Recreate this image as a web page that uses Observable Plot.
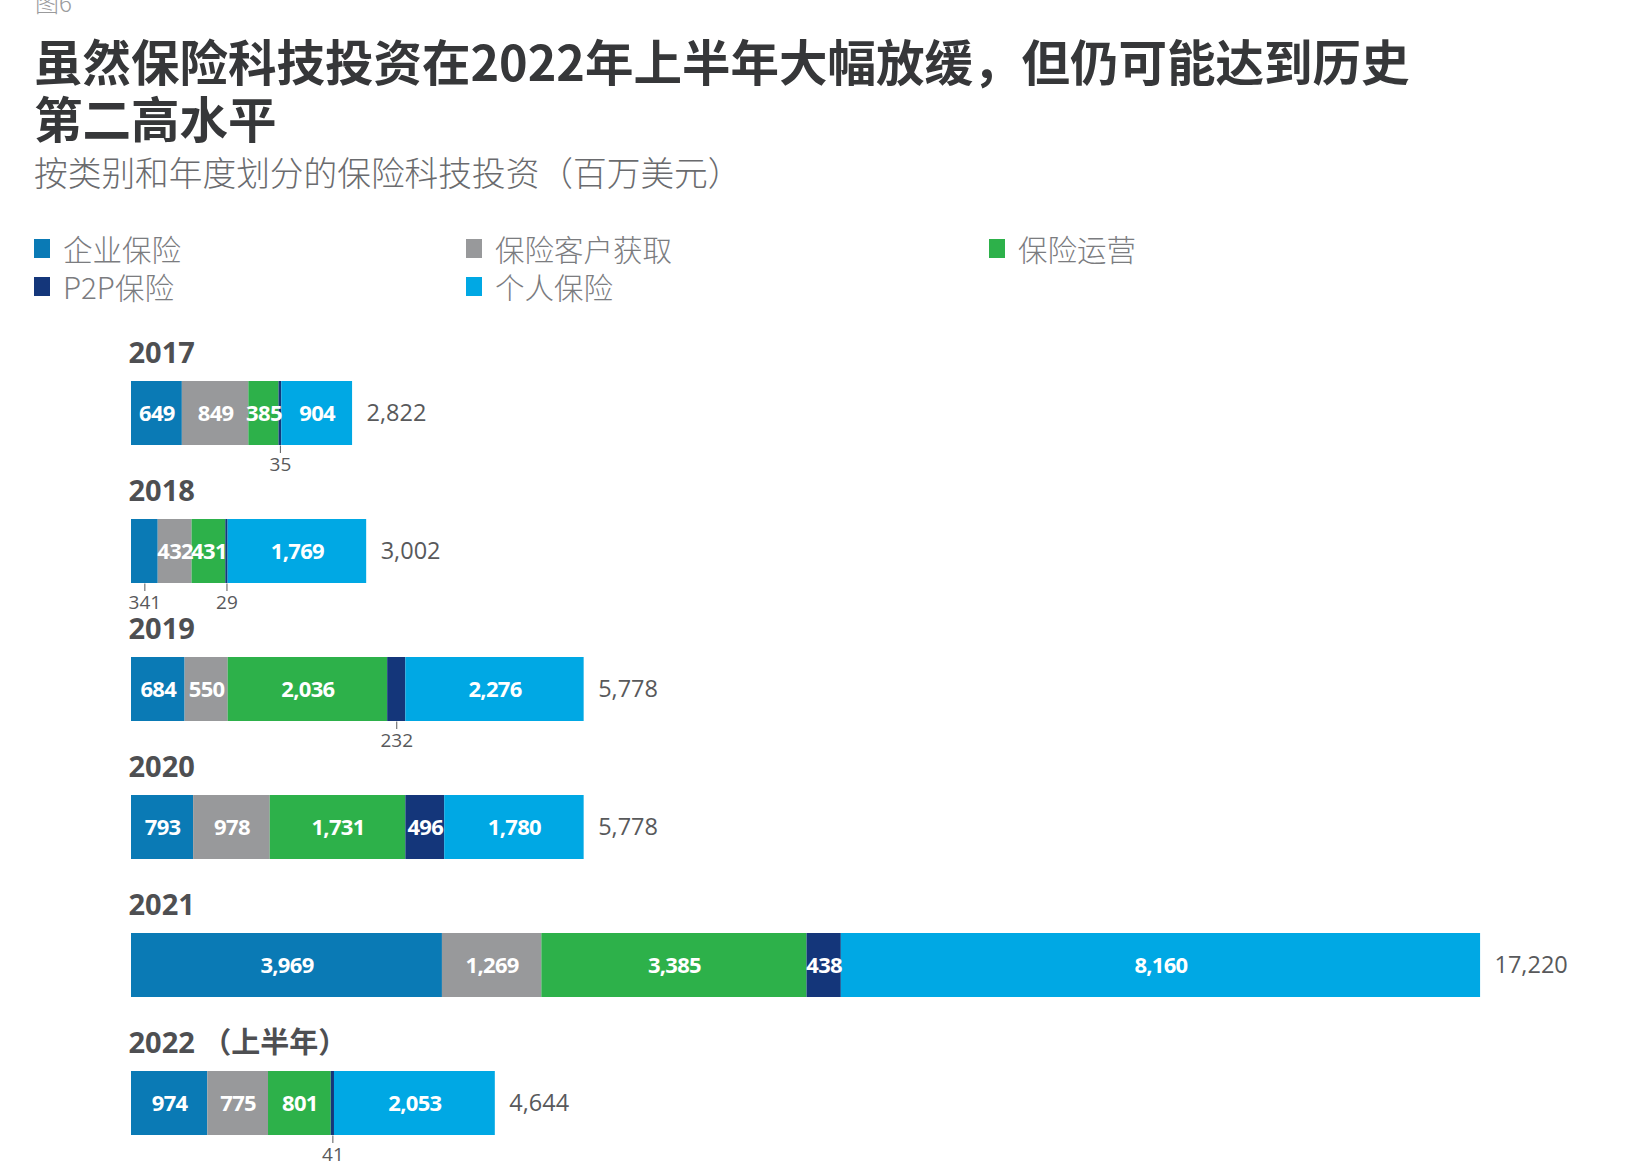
<!DOCTYPE html>
<html>
<head>
<meta charset="utf-8">
<script src="https://cdn.jsdelivr.net/npm/d3@7"></script>
<script src="https://cdn.jsdelivr.net/npm/@observablehq/plot@0.6"></script>
<style>
  body { margin: 0; background: #fff; width: 1632px; height: 1174px; overflow: hidden; position: relative;
         font-family: "Noto Sans CJK SC", "Noto Sans", sans-serif; }
  .fig { position: absolute; left: 35px; top: -11px; font-size: 24px; line-height: 26px; color: #9a9a9c; font-weight: 300; }
  .title { position: absolute; left: 34px; top: 32px; margin: 0; font-size: 48.5px; line-height: 57px; font-weight: 700; color: #363739; }
  .subtitle { position: absolute; left: 34px; top: 152px; font-size: 33.7px; line-height: 40px; font-weight: 300; color: #6a6b6e; }
  .legend { position: absolute; left: 34px; top: 230px; display: grid; grid-template-columns: 432px 523px auto; row-gap: 2px; }
  .item { display: flex; align-items: center; height: 36px; font-size: 29.5px; font-weight: 300; color: #7b7c7f; }
  .sw { width: 16px; height: 19px; margin-right: 13px; }
  #chart { position: absolute; left: 0; top: 300px; }
  /* tighter figures for the in-bar values */
  #chart g[fill="white"] text { letter-spacing: -0.7px; }
</style>
</head>
<body>
<div class="fig">图6</div>
<h1 class="title">虽然保险科技投资在2022年上半年大幅放缓，但仍可能达到历史<br>第二高水平</h1>
<div class="subtitle">按类别和年度划分的保险科技投资（百万美元）</div>
<div class="legend" id="legend"></div>
<div id="chart"></div>
<script>
// Insurtech investment by category and year (USD millions)
const years = ["2017", "2018", "2019", "2020", "2021", "2022 （上半年）"];
const categories = ["企业保险", "保险客户获取", "保险运营", "P2P保险", "个人保险"];
const colors = ["#0a7ab5", "#98999b", "#2db14a", "#14367a", "#00a8e4"];

const enterprise  = [649, 341, 684, 793, 3969, 974];
const acquisition = [849, 432, 550, 978, 1269, 775];
const operations  = [385, 431, 2036, 1731, 3385, 801];
const p2p         = [35, 29, 232, 496, 438, 41];
const personal    = [904, 1769, 2276, 1780, 8160, 2053];
const totals      = [2822, 3002, 5778, 5778, 17220, 4644];

const series = [enterprise, acquisition, operations, p2p, personal];

// Segments laid end to end, in category order, for each year
const rows = [];
years.forEach((year, i) => {
  let start = 0;
  series.forEach((values, k) => {
    const value = values[i];
    rows.push({year, category: categories[k], value, x1: start, x2: start + value});
    start += value;
  });
});
const totalRows = years.map((year, i) => ({year, total: totals[i]}));

// Segments too narrow for an inside label get a callout beneath the bar
const narrow = d => d.value < 360;
const mid = d => (d.x1 + d.x2) / 2;
const fmt = d3.format(",");

// Legend
const legend = document.getElementById("legend");
categories.forEach((c, k) => {
  const item = document.createElement("div");
  item.className = "item";
  item.innerHTML = `<span class="sw" style="background:${colors[k]}"></span><span>${c}</span>`;
  legend.appendChild(item);
});

const BAR_H = 64.5, STEP = 138.6, FIRST_TOP = 78.9;
const pad = 1 - BAR_H / STEP;

const chart = Plot.plot({
  width: 1632,
  height: 874,
  style: {fontFamily: "'Open Sans', 'Noto Sans CJK SC', sans-serif", background: "transparent"},
  x: {domain: [0, 17220], range: [131, 1480], axis: null},
  y: {domain: years, range: [FIRST_TOP, FIRST_TOP + STEP * (years.length - pad)], paddingInner: pad, paddingOuter: 0, axis: null},
  color: {domain: categories, range: colors},
  marks: [
    Plot.barX(rows, {x1: "x1", x2: "x2", y: "year", fill: "category"}),
    Plot.text(rows, {
      x: mid, y: "year",
      text: d => narrow(d) ? "" : fmt(d.value),
      fill: "white", fontWeight: 700, fontSize: 22
    }),
    Plot.tickX(rows.filter(narrow), {
      x: mid, y: "year", insetTop: BAR_H - 8, dy: 8, stroke: "#58595b", strokeWidth: 1
    }),
    Plot.text(rows.filter(narrow), {
      x: mid, y: "year", text: d => fmt(d.value),
      lineAnchor: "bottom", dy: BAR_H / 2 + 25, fontSize: 19, fill: "#58595b"
    }),
    Plot.text(totalRows, {
      x: "total", y: "year", text: d => fmt(d.total),
      textAnchor: "start", dx: 14, fontSize: 23.5, fill: "#58595b"
    }),
    Plot.text(years, {
      x: () => 0, y: d => d, text: d => d,
      textAnchor: "start", lineAnchor: "bottom", dx: -3, dy: -(BAR_H / 2 + 18),
      fontSize: 29, fontWeight: 700, fill: "#4e4f52"
    })
  ]
});
document.getElementById("chart").appendChild(chart);
</script>
</body>
</html>
